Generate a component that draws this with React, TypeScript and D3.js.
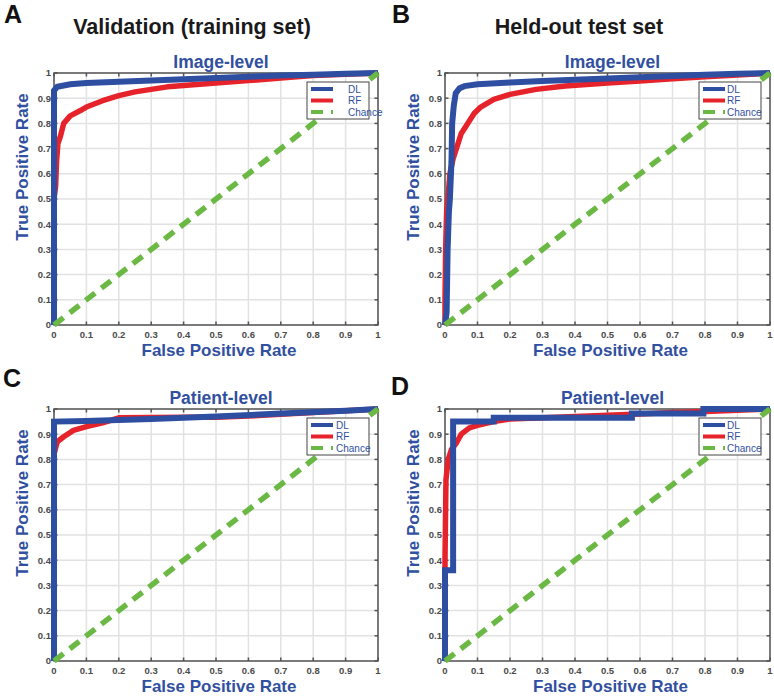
import React from "react";
import * as d3 from "d3";

type Pt = [number, number];

const tickValues = [0, 0.1, 0.2, 0.3, 0.4, 0.5, 0.6, 0.7, 0.8, 0.9, 1];
const tickLabels = ["0", "0.1", "0.2", "0.3", "0.4", "0.5", "0.6", "0.7", "0.8", "0.9", "1"];
const legendLabels = ["DL", "RF", "Chance"];

const columnTitles = ["Validation (training set)", "Held-out test set"];
const panelLetters = ["A", "B", "C", "D"];
const panelTitles = ["Image-level", "Image-level", "Patient-level", "Patient-level"];

// ROC curves [FPR, TPR]
const dlValImage: Pt[] = [[0, 0], [0, 0.93], [0.01, 0.945], [0.05, 0.955], [0.1, 0.96], [0.2, 0.965], [0.3, 0.97], [0.4, 0.975], [0.5, 0.98], [0.6, 0.985], [0.7, 0.99], [0.8, 0.993], [0.9, 0.997], [1, 1]];
const rfValImage: Pt[] = [[0, 0], [0, 0.5], [0.005, 0.55], [0.008, 0.65], [0.012, 0.72], [0.02, 0.75], [0.03, 0.8], [0.05, 0.83], [0.08, 0.85], [0.1, 0.865], [0.15, 0.89], [0.2, 0.91], [0.25, 0.925], [0.3, 0.935], [0.35, 0.945], [0.4, 0.95], [0.5, 0.96], [0.6, 0.97], [0.7, 0.98], [0.8, 0.99], [0.9, 0.995], [1, 1]];
const dlTestImage: Pt[] = [[0, 0], [0.005, 0.05], [0.008, 0.3], [0.012, 0.45], [0.015, 0.5], [0.02, 0.65], [0.022, 0.8], [0.027, 0.87], [0.033, 0.92], [0.045, 0.94], [0.06, 0.948], [0.1, 0.955], [0.2, 0.962], [0.3, 0.968], [0.4, 0.973], [0.5, 0.978], [0.6, 0.983], [0.7, 0.988], [0.8, 0.993], [0.9, 0.997], [1, 1]];
const rfTestImage: Pt[] = [[0, 0], [0, 0.1], [0.002, 0.3], [0.005, 0.45], [0.01, 0.52], [0.015, 0.6], [0.025, 0.66], [0.035, 0.7], [0.05, 0.76], [0.065, 0.79], [0.09, 0.84], [0.11, 0.865], [0.15, 0.895], [0.2, 0.915], [0.28, 0.935], [0.37, 0.948], [0.5, 0.96], [0.6, 0.968], [0.7, 0.977], [0.8, 0.985], [0.9, 0.992], [1, 1]];
const dlValPatient: Pt[] = [[0, 0], [0, 0.95], [0.1, 0.952], [0.3, 0.96], [0.5, 0.97], [0.7, 0.982], [0.9, 0.993], [1, 1]];
const rfValPatient: Pt[] = [[0, 0], [0, 0.82], [0.01, 0.87], [0.03, 0.89], [0.06, 0.915], [0.1, 0.93], [0.15, 0.945], [0.2, 0.965], [0.3, 0.966], [0.4, 0.967], [0.5, 0.967], [0.6, 0.972], [0.7, 0.979], [0.8, 0.986], [0.9, 0.993], [1, 1]];
const dlTestPatient: Pt[] = [[0, 0], [0, 0.36], [0.025, 0.36], [0.025, 0.95], [0.15, 0.95], [0.15, 0.965], [0.575, 0.965], [0.575, 0.982], [0.795, 0.982], [0.795, 1], [1, 1]];
const rfTestPatient: Pt[] = [[0, 0], [0, 0.4], [0.003, 0.72], [0.01, 0.8], [0.02, 0.84], [0.035, 0.865], [0.05, 0.9], [0.075, 0.925], [0.1, 0.935], [0.15, 0.95], [0.2, 0.96], [0.3, 0.965], [0.4, 0.97], [0.5, 0.975], [0.6, 0.98], [0.7, 0.986], [0.8, 0.99], [0.9, 0.995], [1, 1]];
const chance: Pt[] = [[0, 0], [1, 1]];

const panelDL = [dlValImage, dlTestImage, dlValPatient, dlTestPatient];
const panelRF = [rfValImage, rfTestImage, rfValPatient, rfTestPatient];

// layout
const panelBoxes = [
  { left: 54, right: 378, top: 73, bottom: 325, legText: 41 },
  { left: 445, right: 770, top: 73, bottom: 325, legText: 28 },
  { left: 54, right: 378, top: 409, bottom: 661, legText: 29 },
  { left: 445, right: 770, top: 409, bottom: 661, legText: 28 },
];
const letterPos = [[4, 23], [392, 23], [3, 387], [391, 395]];

const BLUE = "#2e4ea2";
const RED = "#e6232a";
const GREEN = "#6bb944";
const TEXTBLUE = "#3150a0";
const FONT = "'Liberation Sans', Arial, sans-serif";

function Panel({ i }: { i: number }) {
  const b = panelBoxes[i];
  const x = d3.scaleLinear().domain([0, 1]).range([b.left, b.right]);
  const y = d3.scaleLinear().domain([0, 1]).range([b.bottom, b.top]);
  const line = d3.line<Pt>().x((d) => x(d[0])).y((d) => y(d[1]));
  const cx = (b.left + b.right) / 2;
  const lx = b.right - 71;
  const ly = b.top + 9;
  const legendColors = [BLUE, RED, GREEN];
  return (
    <g>
      <rect x={b.left} y={b.top} width={b.right - b.left} height={b.bottom - b.top} fill="#fff" />
      {tickValues.map((t, k) => (
        <g key={"g" + k}>
          <line x1={x(t)} x2={x(t)} y1={b.top} y2={b.bottom} stroke="#e2e2e2" strokeWidth={1.5} />
          <line x1={b.left} x2={b.right} y1={y(t)} y2={y(t)} stroke="#e2e2e2" strokeWidth={1.5} />
        </g>
      ))}
      <rect x={b.left} y={b.top} width={b.right - b.left} height={b.bottom - b.top} fill="none" stroke="#555" strokeWidth={1.5} />
      {tickValues.map((t, k) => (
        <g key={"t" + k} stroke="#555" strokeWidth={1.5}>
          <line x1={x(t)} x2={x(t)} y1={b.bottom} y2={b.bottom - 3.5} />
          <line x1={x(t)} x2={x(t)} y1={b.top} y2={b.top + 3.5} />
          <line x1={b.left} x2={b.left + 3.5} y1={y(t)} y2={y(t)} />
          <line x1={b.right} x2={b.right - 3.5} y1={y(t)} y2={y(t)} />
        </g>
      ))}
      {tickValues.map((t, k) => (
        <g key={"l" + k} fontFamily={FONT} fontWeight="bold" fontSize={9.5} fill="#4a4a4a">
          <text x={x(t)} y={b.bottom + 13} textAnchor="middle">{tickLabels[k]}</text>
          <text x={b.left - 3} y={y(t)} dy="0.35em" textAnchor="end">{tickLabels[k]}</text>
        </g>
      ))}
      <path d={line(panelRF[i]) || ""} fill="none" stroke={RED} strokeWidth={5.5} strokeLinejoin="round" />
      <path d={line(panelDL[i]) || ""} fill="none" stroke={BLUE} strokeWidth={6} strokeLinejoin="miter" />
      <path d={line(chance) || ""} fill="none" stroke={GREEN} strokeWidth={5.5} strokeDasharray="12 8" />
      <rect x={lx} y={ly} width={62} height={37} fill="#fff" stroke="#444" strokeWidth={1} />
      {legendLabels.map((lab, k) => (
        <g key={"lg" + k}>
          <line x1={lx + 4} x2={lx + 26} y1={ly + 7 + k * 11.5} y2={ly + 7 + k * 11.5} stroke={legendColors[k]} strokeWidth={4} strokeDasharray={k === 2 ? "12 8" : undefined} />
          <text x={lx + b.legText} y={ly + 7 + k * 11.5} dy="0.35em" fontFamily={FONT} fontSize={10} fill={TEXTBLUE}>{lab}</text>
        </g>
      ))}
      <text x={cx + 5} y={b.top - 5} textAnchor="middle" fontFamily={FONT} fontWeight="bold" fontSize={17.5} fill={TEXTBLUE}>{panelTitles[i]}</text>
      <text x={cx + 3} y={b.bottom + 31} textAnchor="middle" fontFamily={FONT} fontWeight="bold" fontSize={17} fill={TEXTBLUE}>False Positive Rate</text>
      <text transform={`translate(${b.left - 26},${b.top + 94}) rotate(-90)`} textAnchor="middle" fontFamily={FONT} fontWeight="bold" fontSize={17} fill={TEXTBLUE}>True Positive Rate</text>
      <text x={letterPos[i][0]} y={letterPos[i][1]} fontFamily={FONT} fontWeight="bold" fontSize={25} fill="#111">{panelLetters[i]}</text>
    </g>
  );
}

export default function App() {
  return (
    <svg width={774} height={696} style={{ position: "absolute", left: 0, top: 0, background: "#fff" }}>
      <rect width={774} height={696} fill="#fff" />
      <text x={192} y={34} textAnchor="middle" fontFamily={FONT} fontWeight="bold" fontSize={21.5} fill="#1a1a1a">{columnTitles[0]}</text>
      <text x={579} y={34} textAnchor="middle" fontFamily={FONT} fontWeight="bold" fontSize={21.5} fill="#1a1a1a">{columnTitles[1]}</text>
      {[0, 1, 2, 3].map((i) => <Panel key={i} i={i} />)}
    </svg>
  );
}
